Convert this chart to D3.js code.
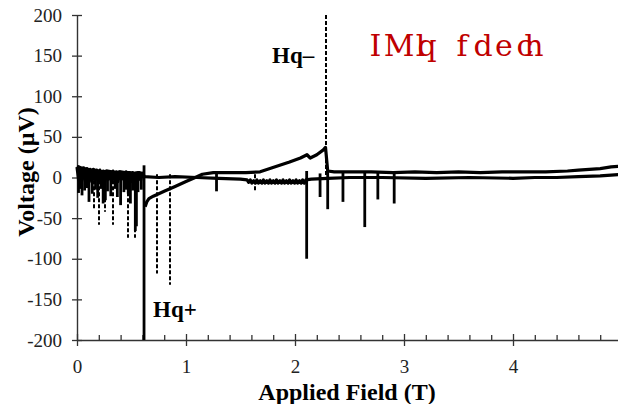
<!DOCTYPE html>
<html>
<head>
<meta charset="utf-8">
<script src="https://cdn.jsdelivr.net/npm/d3@7"></script>
<style>
  html, body { margin: 0; padding: 0; background: #fff; }
  svg { display: block; }
</style>
</head>
<body>
<script>
// Field sweep up from 0 T: low-field baseline before the big flux jump
const upLowField = [0, 0.02, 0.04, 0.06, 0.08, 0.1, 0.13, 0.16, 0.2, 0.24, 0.28, 0.32, 0.36, 0.4, 0.44, 0.48, 0.52, 0.56, 0.6, 0.61];
const upLowVolt  = [14, 13, 11, 12, 10, 10, 9, 9, 8, 7, 8, 7, 6, 7, 6, 6, 5, 6, 5, 5];

// Recovery after the jump, rise to the Hq- peak, then flat to 5 T
const upHighField = [0.625, 0.64, 0.66, 0.7, 0.8, 0.9, 1.0, 1.1, 1.15, 1.25, 1.4, 1.55, 1.68, 1.77, 1.86, 1.95, 2.05,
                     2.11, 2.14, 2.2, 2.26, 2.28, 2.3, 2.36, 2.5, 2.7, 2.9, 3.1, 3.3, 3.5, 3.7, 3.9, 4.1, 4.3, 4.5,
                     4.6, 4.7, 4.8, 4.9, 5.0];
const upHighVolt  = [-36, -30, -26, -23, -17, -11, -5, 1, 4, 6, 6, 6, 7, 11, 15, 19, 24,
                     28, 24, 28, 34, 37, 8, 7, 7, 7, 6, 7, 6, 7, 6, 7, 7, 7, 8,
                     9, 10, 11, 13, 14];

// Return sweep from 5 T back to 0 T (noisy band between 1.55 T and 2.1 T and below 0.6 T)
const downField = [5.0, 4.9, 4.8, 4.6, 4.4, 4.2, 4.0, 3.6, 3.2, 2.8, 2.5, 2.3, 2.15,
                   2.1, 2.085, 2.07, 2.055, 2.04, 2.025, 2.01, 1.995, 1.98, 1.965, 1.95, 1.935, 1.92, 1.905,
                   1.89, 1.875, 1.86, 1.845, 1.83, 1.815, 1.8, 1.785, 1.77, 1.755, 1.74, 1.725, 1.71, 1.695,
                   1.68, 1.665, 1.65, 1.635, 1.62, 1.605, 1.59, 1.575, 1.56,
                   1.5, 1.3, 1.1, 0.9, 0.75, 0.62,
                   0.6, 0.585, 0.57, 0.555, 0.54, 0.525, 0.51, 0.495, 0.48, 0.465, 0.45, 0.435, 0.42, 0.405,
                   0.39, 0.375, 0.36, 0.345, 0.33, 0.315, 0.3, 0.285, 0.27, 0.255, 0.24, 0.225, 0.21, 0.195,
                   0.18, 0.165, 0.15, 0.135, 0.12, 0.105, 0.09, 0.075, 0.06, 0.045, 0.03, 0.015, 0];
const downVolt  = [4, 3, 2, 1, 0, 0, -1, 0, -1, 0, 0, -1, -2,
                   -3, -7, -3, -7, -4, -7, -3, -7, -4, -7, -3, -7, -4, -7,
                   -3, -7, -4, -7, -3, -7, -4, -7, -3, -7, -4, -7, -3, -7,
                   -4, -7, -3, -7, -4, -7, -3, -6, -3,
                   -2, -1, 0, 1, 0, 1,
                   5, -3, 6, -4, 5, -2, 6, -5, 6, -3, 7, -4, 6, -2,
                   7, -5, 7, -3, 8, -4, 7, -2, 8, -5, 8, -3, 9, -4,
                   9, -2, 10, -5, 10, -3, 11, -4, 11, -2, 12, -3, 13];

// Solid voltage spikes: field position, lowest reading and starting reading
const spikeField = [0.014, 0.03, 0.046, 0.07, 0.09, 0.11, 0.14, 0.17, 0.19, 0.22, 0.24, 0.26, 0.28, 0.31, 0.35,
                    0.37, 0.40, 0.43, 0.45, 0.47, 0.49, 0.51, 0.535, 0.545, 0.56, 0.59,
                    0.615, 1.28, 2.107, 2.23, 2.30, 2.44, 2.64, 2.76, 2.91];
const spikeLow   = [-19, -14, -22, -16, -13, -30, -20, -15, -25, -14, -32, -28, -17, -23, -14,
                    -24, -34, -18, -15, -20, -32, -16, -66, -60, -18, -15,
                    -200, -17, -100, -24, -39, -30, -61, -27, -32];
const spikeHigh  = [10, 10, 9, 9, 8, 8, 8, 7, 7, 7, 6, 6, 6, 6, 6,
                    6, 6, 5, 5, 5, 5, 5, 5, 5, 5, 5,
                    15, 5, 8, 5, 8, 6, 6, 6, 6];

// Dashed spikes
const dashField = [0.155, 0.2, 0.26, 0.33, 0.465, 0.53, 0.73, 0.855, 1.63];
const dashLow   = [-40, -58, -42, -58, -74, -74, -118, -132, -17];

// Hq- marker
const hqMinusField = 2.28;

const xMajorTicks = [0, 1, 2, 3, 4];
const yTicks = [-200, -150, -100, -50, 0, 50, 100, 150, 200];

const W = 618, H = 404;
const svg = d3.select("body").append("svg").attr("width", W).attr("height", H);
svg.append("rect").attr("width", W).attr("height", H).attr("fill", "#fff");

const x = d3.scaleLinear().domain([0, 5]).range([77, 622]);
const y = d3.scaleLinear().domain([-200, 200]).range([340, 15]);

const serif = "'Liberation Serif', 'Times New Roman', serif";

// Axes
const yAxis = svg.append("g").attr("transform", `translate(${x(0)},0)`)
  .call(d3.axisLeft(y).tickValues(yTicks).tickFormat(d => String(d)).tickSizeOuter(0));
yAxis.selectAll(".tick line").attr("x1", -5).attr("x2", 5);
yAxis.selectAll(".tick text").attr("x", -15).attr("font-family", serif).attr("font-size", 19).attr("fill", "#222");

const xAxis = svg.append("g").attr("transform", `translate(0,${y(-200)})`)
  .call(d3.axisBottom(x).tickValues(xMajorTicks).tickFormat(d => String(d)).tickSizeOuter(0));
xAxis.selectAll(".tick line").attr("y1", -6).attr("y2", 6);
xAxis.selectAll(".tick text").attr("y", 20).attr("font-family", serif).attr("font-size", 19).attr("fill", "#222");

const minor = d3.range(0.2, 5.0, 0.2).filter(v => Math.abs(v - Math.round(v)) > 0.01);
const xMinor = svg.append("g").attr("transform", `translate(0,${y(-200)})`)
  .call(d3.axisBottom(x).tickValues(minor).tickFormat("").tickSize(0));
xMinor.select(".domain").remove();
xMinor.selectAll(".tick line").attr("y1", -5).attr("y2", 0);

svg.selectAll(".domain").attr("stroke", "#333").attr("stroke-width", 1.4);
svg.selectAll(".tick line").attr("stroke", "#333").attr("stroke-width", 1.3);

// Traces
const line = d3.line().x(d => x(d[0])).y(d => y(d[1]));
const plot = svg.append("g");

const traces = [
  d3.zip(upLowField, upLowVolt),
  d3.zip(upHighField, upHighVolt),
  d3.zip(downField, downVolt)
];
plot.selectAll("path.trace").data(traces).join("path")
  .attr("class", "trace")
  .attr("d", line)
  .attr("fill", "none")
  .attr("stroke", "#000")
  .attr("stroke-width", 3.2)
  .attr("stroke-linejoin", "round");

// Dashed spikes and the Hq- marker
plot.selectAll("line.dash").data(d3.zip(dashField, dashLow)).join("line")
  .attr("class", "dash")
  .attr("x1", d => Math.round(x(d[0]))).attr("x2", d => Math.round(x(d[0])))
  .attr("y1", y(4)).attr("y2", d => y(d[1]))
  .attr("stroke", "#000").attr("stroke-width", 2).attr("stroke-dasharray", "4,2");

plot.append("line")
  .attr("x1", Math.round(x(hqMinusField))).attr("x2", Math.round(x(hqMinusField)))
  .attr("y1", y(200)).attr("y2", y(0))
  .attr("stroke", "#000").attr("stroke-width", 2).attr("stroke-dasharray", "4,2");

// Solid spikes
plot.selectAll("line.spike").data(d3.zip(spikeField, spikeLow, spikeHigh)).join("line")
  .attr("class", "spike")
  .attr("x1", d => x(d[0])).attr("x2", d => x(d[0]))
  .attr("y1", d => y(d[2])).attr("y2", d => y(d[1]))
  .attr("stroke", "#000").attr("stroke-width", 2.8);

// Annotations
svg.append("text").attr("x", 272).attr("y", 63)
  .attr("font-family", serif).attr("font-weight", "bold").attr("font-size", 23)
  .text("Hq–");
svg.append("text").attr("x", 153).attr("y", 317)
  .attr("font-family", serif).attr("font-weight", "bold").attr("font-size", 23)
  .text("Hq+");

// Red heading, each glyph placed on its own centre
svg.append("text")
  .attr("x", "375.5 399 420.5 427 444 462 483 504 525 534").attr("y", 56)
  .attr("text-anchor", "middle")
  .attr("font-family", "'DejaVu Serif', serif")
  .attr("font-size", 30).attr("fill", "#c00000")
  .text("IMlq fdech");

// Axis titles
svg.append("text").attr("x", 347).attr("y", 400).attr("text-anchor", "middle")
  .attr("font-family", serif).attr("font-weight", "bold").attr("font-size", 24)
  .text("Applied Field (T)");
svg.append("text").attr("transform", "translate(34,172) rotate(-90)").attr("text-anchor", "middle")
  .attr("font-family", serif).attr("font-weight", "bold").attr("font-size", 24)
  .text("Voltage (µV)");
</script>
</body>
</html>
